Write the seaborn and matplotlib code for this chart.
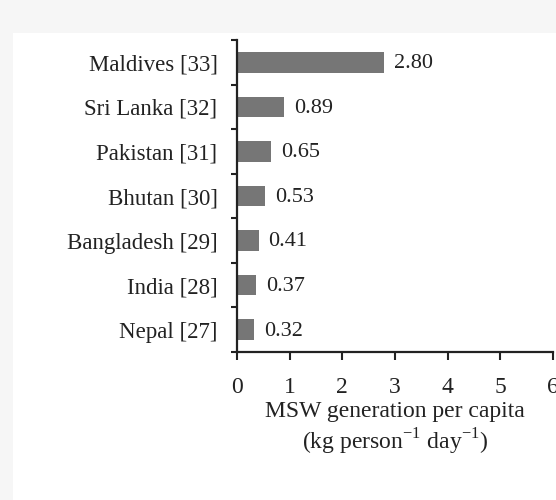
"""
MSW generation per capita in South Asian countries
Horizontal bar chart recreated with seaborn
"""
import pandas as pd
import numpy as np
import matplotlib.pyplot as plt
import seaborn as sns
from matplotlib.patches import Rectangle
from matplotlib.ticker import FixedLocator

# Data
countries = ['Maldives [33]', 'Sri Lanka [32]', 'Pakistan [31]', 'Bhutan [30]',
             'Bangladesh [29]', 'India [28]', 'Nepal [27]']
msw_per_capita = [2.80, 0.89, 0.65, 0.53, 0.41, 0.37, 0.32]
value_labels = ['2.80', '0.89', '0.65', '0.53', '0.41', '0.37', '0.32']

df = pd.DataFrame({'Country': countries, 'MSW': msw_per_capita})

sns.set_style('ticks')
plt.rcParams['font.family'] = ['Liberation Serif', 'DejaVu Serif']
plt.rcParams['mathtext.fontset'] = 'custom'
plt.rcParams['mathtext.rm'] = 'Liberation Serif'

fig = plt.figure(figsize=(5.56, 5.00), dpi=100)
fig.patch.set_facecolor('#f6f6f6')
# white panel of the screenshot, kept behind the axes
fig.add_artist(Rectangle((13 / 556, 0), 1, (500 - 33) / 500, transform=fig.transFigure,
                         facecolor='white', edgecolor='none', zorder=-5))

ax = fig.add_axes([237 / 556, 1 - 352 / 500, (553 - 237) / 556, (352 - 40) / 500])
ax.set_facecolor('none')

sns.barplot(data=df, x='MSW', y='Country', ax=ax, color='#767676', width=0.46,
            saturation=1, edgecolor='none')

# value labels
for i, (v, lab) in enumerate(zip(msw_per_capita, value_labels)):
    ax.text(v + 0.19, i + 0.03, lab, ha='left', va='center', fontsize=16, color='#222222')

ax.set_xlim(0, 6)
ax.set_ylim(6.5, -0.5)
ax.set_xticks(range(0, 7))
ax.set_xticklabels([str(t) for t in range(0, 7)], fontsize=17, color='#222222')
ax.tick_params(axis='x', direction='out', length=6, width=1.5, pad=12, color='#222222')

# category labels without major ticks, small ticks at category boundaries
ax.tick_params(axis='y', which='major', length=0, pad=14, labelsize=16.5, labelcolor='#222222')
ax.yaxis.set_minor_locator(FixedLocator(np.arange(-0.5, 6.6, 1.0)))
ax.tick_params(axis='y', which='minor', direction='out', length=4, width=1.5, color='#222222')

ax.set_ylabel('')
ax.set_xlabel('MSW generation per capita\n(kg person$^{\\mathregular{-1}}$ day$^{\\mathregular{-1}}$)',
              fontsize=17, color='#222222', labelpad=2, linespacing=1.2)

for side in ['top', 'right']:
    ax.spines[side].set_visible(False)
for side in ['left', 'bottom']:
    ax.spines[side].set_linewidth(1.6)
    ax.spines[side].set_color('#222222')

plt.savefig('out.png', dpi=100, facecolor=fig.get_facecolor())
print("Saved: out.png")
